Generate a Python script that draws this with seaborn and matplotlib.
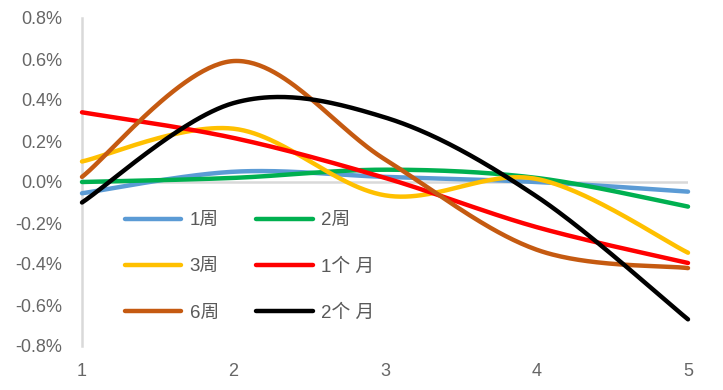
import numpy as np
import pandas as pd
import matplotlib
matplotlib.use("Agg")
import matplotlib.pyplot as plt
import seaborn as sns
from matplotlib.ticker import FuncFormatter, FixedLocator

# ---- data (values in %) ----
x_vals = [1, 2, 3, 4, 5]
series_names = ["1周", "2周", "3周", "1个 月", "6周", "2个 月"]
s_1w = [-0.055, 0.05, 0.025, 0.0, -0.047]
s_2w = [0.0, 0.02, 0.06, 0.02, -0.12]
s_3w = [0.10, 0.26, -0.065, 0.015, -0.345]
s_1m = [0.34, 0.215, 0.02, -0.22, -0.395]
s_6w = [0.025, 0.59, 0.11, -0.33, -0.42]
s_2m = [-0.10, 0.385, 0.315, -0.07, -0.67]
series_values = [s_1w, s_2w, s_3w, s_1m, s_6w, s_2m]
colors = ["#5B9BD5", "#00B050", "#FFC000", "#FF0000", "#C55A11", "#000000"]
y_ticks = [-0.8, -0.6, -0.4, -0.2, 0.0, 0.2, 0.4, 0.6, 0.8]


def smooth_line(xs, ys, n=60):
    """Excel-like smoothed line (Catmull-Rom Bezier through the points)."""
    P = np.column_stack([xs, ys]).astype(float)
    pad = np.vstack([P[0], P, P[-1]])
    t = np.linspace(0, 1, n)[:, None]
    out = []
    for i in range(len(P) - 1):
        p0, p1, p2, p3 = pad[i:i + 4]
        c1 = p1 + (p2 - p0) / 6.0
        c2 = p2 - (p3 - p1) / 6.0
        seg = ((1 - t) ** 3) * p1 + 3 * ((1 - t) ** 2) * t * c1 + 3 * (1 - t) * t ** 2 * c2 + t ** 3 * p2
        out.append(seg if i == 0 else seg[1:])
    out = np.vstack(out)
    return out[:, 0], out[:, 1]


sns.set_theme(style="white")
plt.rcParams["font.family"] = ["Liberation Sans", "Noto Sans CJK SC", "DejaVu Sans"]

W, H = 723, 390
fig = plt.figure(figsize=(W / 100, H / 100), dpi=100)
ax = fig.add_axes([82 / W, 1 - 346 / H, (688 - 82) / W, (346 - 18) / H])

ax.axhline(0, color="#D9D9D9", lw=1.8, zorder=1)

handles = {}
for name, vals, col in zip(series_names, series_values, colors):
    sx, sy = smooth_line(x_vals, vals)
    df = pd.DataFrame({"x": sx, "y": sy})
    sns.lineplot(data=df, x="x", y="y", sort=False, estimator=None, ax=ax,
                 color=col, lw=3.2, label=name, zorder=3)
    ln = ax.lines[-1]
    ln.set_solid_capstyle("round")
    ln.set_clip_on(False)
    handles[name] = ln

ax.set_xlim(1, 5)
ax.set_ylim(-0.8, 0.8)
ax.xaxis.set_major_locator(FixedLocator(x_vals))
ax.yaxis.set_major_locator(FixedLocator(y_ticks))
ax.yaxis.set_major_formatter(FuncFormatter(lambda v, p: f"{v:.1f}%".replace("−", "-")))
ax.set_xlabel("")
ax.set_ylabel("")
for s in ["top", "right", "bottom"]:
    ax.spines[s].set_visible(False)
ax.spines["left"].set_color("#D9D9D9")
ax.spines["left"].set_linewidth(1.8)
ax.tick_params(axis="both", length=0, labelsize=13, colors="#666666")
ax.tick_params(axis="y", pad=14)
ax.tick_params(axis="x", pad=12)

order = ["1周", "3周", "6周", "2周", "1个 月", "2个 月"]
leg = ax.legend([handles[k] for k in order], order, ncol=2, frameon=False,
                loc="upper left", bbox_to_anchor=(125 / W, 1 - 212 / H),
                bbox_transform=fig.transFigure, fontsize=13.5,
                handlelength=3.0, handletextpad=0.45, columnspacing=2.0,
                labelspacing=1.55, borderpad=0, borderaxespad=0)
for t in leg.get_texts():
    t.set_color("#595959")

fig.savefig("out.png", dpi=100)
